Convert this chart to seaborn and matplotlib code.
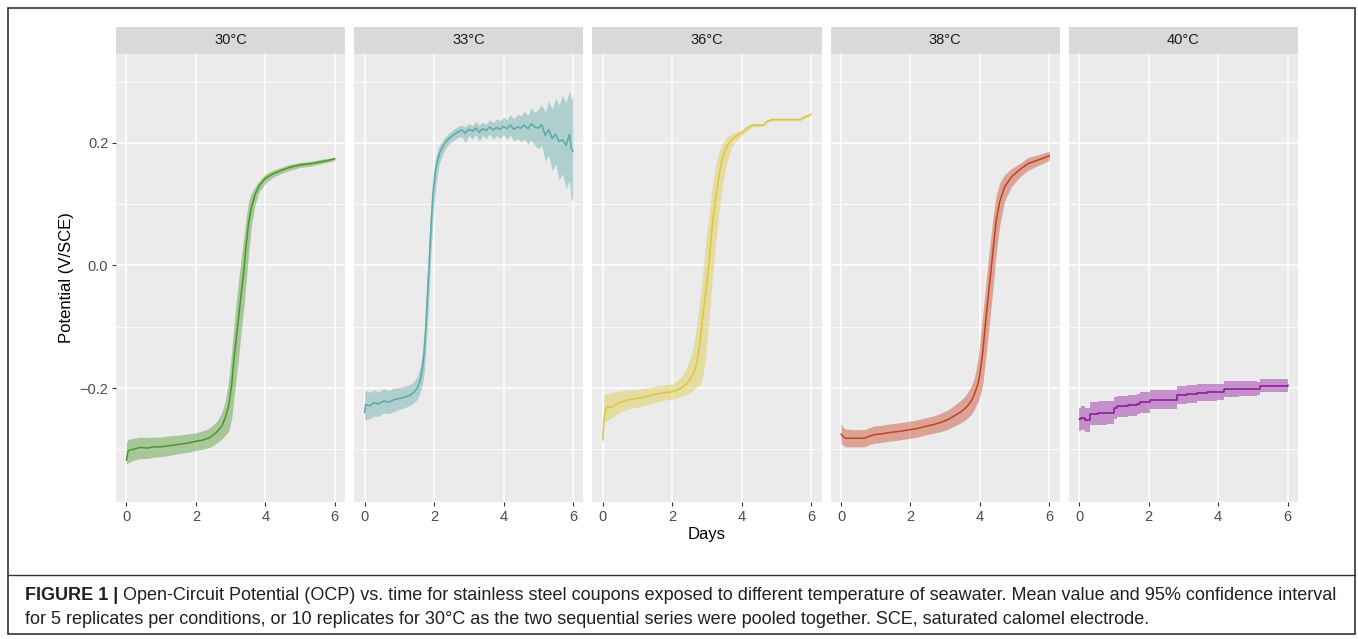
import numpy as np
import pandas as pd
import seaborn as sns
import matplotlib.pyplot as plt
from matplotlib import font_manager
from matplotlib.patches import Rectangle
from matplotlib.lines import Line2D
from matplotlib.ticker import FuncFormatter

# ---- data (days, mean, 95% CI) ----
temps = ["30°C", "33°C", "36°C", "38°C", "40°C"]

days_30 = [0.00, 0.05, 0.20, 0.40, 0.60, 0.80, 1.00, 1.25, 1.50, 1.75, 2.00, 2.20, 2.40, 2.60, 2.75,
           2.85, 2.95, 3.03, 3.10, 3.17, 3.24, 3.31, 3.38, 3.45, 3.52, 3.60, 3.70, 3.82, 4.00, 4.20,
           4.45, 4.70, 5.00, 5.30, 5.60, 5.85, 6.00]
mean_30 = [-0.318, -0.302, -0.300, -0.297, -0.298, -0.296, -0.296, -0.294, -0.292, -0.290, -0.287,
           -0.285, -0.281, -0.272, -0.262, -0.248, -0.228, -0.195, -0.150, -0.115, -0.080, -0.044,
           -0.010, 0.035, 0.070, 0.095, 0.115, 0.130, 0.142, 0.149, 0.155, 0.160, 0.164, 0.166,
           0.169, 0.172, 0.174]
lo_30 = [-0.325, -0.322, -0.318, -0.315, -0.315, -0.313, -0.312, -0.310, -0.307, -0.305, -0.302,
         -0.300, -0.297, -0.290, -0.283, -0.277, -0.270, -0.250, -0.215, -0.180, -0.145, -0.105,
         -0.070, -0.025, 0.020, 0.065, 0.098, 0.120, 0.134, 0.143, 0.150, 0.155, 0.160, 0.162,
         0.166, 0.169, 0.171]
hi_30 = [-0.290, -0.284, -0.282, -0.280, -0.281, -0.280, -0.280, -0.278, -0.277, -0.275, -0.273,
         -0.270, -0.265, -0.255, -0.240, -0.220, -0.185, -0.140, -0.095, -0.055, -0.020, 0.015,
         0.045, 0.080, 0.105, 0.118, 0.128, 0.138, 0.149, 0.155, 0.160, 0.165, 0.168, 0.170,
         0.173, 0.175, 0.177]

days_33 = [0.00, 0.03, 0.15, 0.27, 0.40, 0.55, 0.70, 0.85, 1.00, 1.15, 1.30, 1.42, 1.52, 1.60, 1.66,
           1.71, 1.76, 1.81, 1.86, 1.91, 1.97, 2.05, 2.15, 2.28, 2.42, 2.58, 2.70,
           2.8, 2.9, 3.0, 3.1, 3.2, 3.3, 3.4, 3.5, 3.6, 3.7, 3.8, 3.9, 4.0, 4.1, 4.2, 4.3, 4.4,
           4.5, 4.6, 4.7, 4.8, 4.9, 5.0, 5.1, 5.2, 5.3, 5.4, 5.5, 5.6, 5.7, 5.8, 5.9, 5.95, 6.0]
mean_33 = [-0.240, -0.227, -0.229, -0.224, -0.226, -0.221, -0.223, -0.219, -0.217, -0.215, -0.212,
           -0.207, -0.200, -0.188, -0.170, -0.145, -0.105, -0.051, 0.003, 0.062, 0.116, 0.159,
           0.182, 0.197, 0.207, 0.214, 0.218,
           0.221, 0.216, 0.222, 0.219, 0.224, 0.217, 0.223, 0.220, 0.226, 0.221, 0.225, 0.222,
           0.227, 0.223, 0.229, 0.222, 0.226, 0.224, 0.229, 0.223, 0.231, 0.226, 0.224, 0.230,
           0.212, 0.222, 0.207, 0.214, 0.202, 0.205, 0.196, 0.214, 0.192, 0.186]
lo_33 = [-0.252, -0.252, -0.250, -0.246, -0.246, -0.241, -0.242, -0.238, -0.235, -0.232, -0.229,
         -0.224, -0.218, -0.208, -0.195, -0.178, -0.145, -0.095, -0.040, 0.020, 0.075, 0.130,
         0.166, 0.186, 0.198, 0.205, 0.209,
         0.210, 0.200, 0.212, 0.206, 0.214, 0.203, 0.212, 0.207, 0.214, 0.206, 0.212, 0.207,
         0.213, 0.206, 0.213, 0.203, 0.207, 0.202, 0.206, 0.198, 0.204, 0.196, 0.190, 0.196,
         0.170, 0.180, 0.155, 0.165, 0.140, 0.150, 0.125, 0.140, 0.105, 0.110]
hi_33 = [-0.205, -0.204, -0.207, -0.203, -0.206, -0.201, -0.204, -0.200, -0.199, -0.197, -0.194,
         -0.189, -0.180, -0.165, -0.142, -0.110, -0.060, -0.005, 0.050, 0.105, 0.148, 0.178,
         0.196, 0.207, 0.216, 0.223, 0.227,
         0.229, 0.226, 0.232, 0.228, 0.235, 0.229, 0.234, 0.231, 0.238, 0.233, 0.239, 0.236,
         0.242, 0.238, 0.246, 0.239, 0.247, 0.244, 0.252, 0.245, 0.257, 0.250, 0.255, 0.262,
         0.250, 0.268, 0.255, 0.272, 0.262, 0.278, 0.265, 0.285, 0.270, 0.280]

days_36 = [0.00, 0.03, 0.06, 0.12, 0.26, 0.45, 0.74, 1.00, 1.25, 1.51, 1.75, 2.00, 2.15, 2.28, 2.40,
           2.52, 2.60, 2.66, 2.72, 2.79, 2.86, 2.95, 3.05, 3.14, 3.24, 3.34, 3.45, 3.58, 3.72, 3.91,
           4.00, 4.11, 4.30, 4.63, 4.73, 4.88, 5.69, 5.79, 5.90, 6.00]
mean_36 = [-0.285, -0.255, -0.240, -0.231, -0.231, -0.224, -0.219, -0.217, -0.214, -0.210, -0.208,
           -0.206, -0.203, -0.199, -0.194, -0.185, -0.177, -0.169, -0.155, -0.130, -0.093, -0.050,
           -0.002, 0.058, 0.106, 0.144, 0.177, 0.195, 0.206, 0.214, 0.217, 0.222, 0.229, 0.229,
           0.235, 0.238, 0.238, 0.242, 0.244, 0.247]
lo_36 = [-0.290, -0.262, -0.256, -0.253, -0.249, -0.241, -0.234, -0.231, -0.228, -0.223, -0.220,
         -0.218, -0.216, -0.214, -0.211, -0.207, -0.203, -0.200, -0.198, -0.196, -0.185, -0.155,
         -0.095, -0.030, 0.030, 0.085, 0.135, 0.170, 0.195, 0.208, 0.212, 0.218, 0.226, 0.227,
         0.233, 0.236, 0.236, 0.240, 0.242, 0.245]
hi_36 = [-0.280, -0.215, -0.210, -0.209, -0.208, -0.205, -0.203, -0.202, -0.200, -0.197, -0.195,
         -0.193, -0.188, -0.180, -0.168, -0.150, -0.132, -0.115, -0.090, -0.060, -0.020, 0.030,
         0.080, 0.125, 0.160, 0.185, 0.200, 0.210, 0.215, 0.219, 0.221, 0.226, 0.232, 0.231,
         0.237, 0.240, 0.240, 0.244, 0.246, 0.249]

days_38 = [0.00, 0.07, 0.14, 0.40, 0.67, 0.80, 0.96, 1.15, 1.35, 1.65, 1.99, 2.20, 2.40, 2.65, 2.88,
           3.10, 3.27, 3.45, 3.56, 3.66, 3.75, 3.83, 3.89, 3.95, 3.99, 4.04, 4.09, 4.18, 4.28, 4.38,
           4.47, 4.57, 4.71, 4.90, 5.14, 5.38, 5.63, 5.87, 6.00]
mean_38 = [-0.275, -0.280, -0.282, -0.282, -0.282, -0.279, -0.276, -0.275, -0.273, -0.271, -0.268,
           -0.266, -0.263, -0.260, -0.256, -0.251, -0.245, -0.239, -0.234, -0.228, -0.221, -0.212,
           -0.202, -0.192, -0.180, -0.160, -0.137, -0.083, -0.029, 0.025, 0.074, 0.104, 0.128,
           0.144, 0.156, 0.166, 0.171, 0.176, 0.179]
lo_38 = [-0.291, -0.294, -0.296, -0.296, -0.296, -0.293, -0.290, -0.289, -0.287, -0.285, -0.282,
         -0.280, -0.277, -0.274, -0.271, -0.267, -0.262, -0.257, -0.253, -0.248, -0.243, -0.236,
         -0.228, -0.222, -0.215, -0.205, -0.190, -0.145, -0.090, -0.035, 0.020, 0.065, 0.105,
         0.128, 0.144, 0.155, 0.162, 0.168, 0.172]
hi_38 = [-0.258, -0.265, -0.267, -0.268, -0.268, -0.265, -0.262, -0.261, -0.259, -0.257, -0.254,
         -0.252, -0.249, -0.246, -0.241, -0.235, -0.228, -0.220, -0.214, -0.206, -0.197, -0.185,
         -0.170, -0.150, -0.130, -0.100, -0.075, -0.025, 0.030, 0.080, 0.115, 0.135, 0.148,
         0.158, 0.166, 0.176, 0.180, 0.184, 0.186]

days_40 = [0.00, 0.05, 0.17, 0.32, 0.55, 0.80, 0.99, 1.09, 1.40, 1.66, 1.76, 2.05, 2.40, 2.67, 2.82,
           3.11, 3.40, 3.68, 3.97, 4.16, 4.60, 5.13, 5.22, 6.00]
mean_40 = [-0.251, -0.249, -0.252, -0.242, -0.241, -0.240, -0.233, -0.230, -0.228, -0.226, -0.223,
           -0.219, -0.219, -0.219, -0.211, -0.210, -0.208, -0.207, -0.206, -0.201, -0.201, -0.201,
           -0.196, -0.195]
lo_40 = [-0.270, -0.268, -0.271, -0.261, -0.260, -0.258, -0.251, -0.247, -0.245, -0.243, -0.240,
         -0.235, -0.235, -0.234, -0.226, -0.225, -0.222, -0.221, -0.219, -0.214, -0.213, -0.212,
         -0.207, -0.206]
hi_40 = [-0.232, -0.230, -0.233, -0.223, -0.222, -0.222, -0.215, -0.213, -0.211, -0.209, -0.206,
         -0.203, -0.203, -0.204, -0.196, -0.195, -0.194, -0.193, -0.193, -0.188, -0.189, -0.190,
         -0.185, -0.184]

line_colors = ["#4B9628", "#5AAAA5", "#DCC83C", "#C3411E", "#8C149B"]

series = {
    "30°C": (days_30, mean_30, lo_30, hi_30),
    "33°C": (days_33, mean_33, lo_33, hi_33),
    "36°C": (days_36, mean_36, lo_36, hi_36),
    "38°C": (days_38, mean_38, lo_38, hi_38),
    "40°C": (days_40, mean_40, lo_40, hi_40),
}

frames = []
for t, (d, m, lo, hi) in series.items():
    frames.append(pd.DataFrame({"temp": t, "day": d, "mean": m, "lo": lo, "hi": hi}))
df = pd.concat(frames, ignore_index=True)

# ---- style (ggplot grey look) ----
sns.set_theme(style="darkgrid", rc={
    "axes.facecolor": "#EBEBEB",
    "grid.color": "white",
    "axes.edgecolor": "none",
})
names = {f.name for f in font_manager.fontManager.ttflist}
plt.rcParams["font.family"] = ["Liberation Sans", "DejaVu Sans"]

W, H = 1358, 639
g = sns.FacetGrid(df, col="temp", col_order=temps, sharex=True, sharey=True, despine=False)
fig = g.figure
fig.set_size_inches(W / 100, H / 100)
fig.set_dpi(100)
fig.subplots_adjust(left=116 / W, right=1298 / W, top=1 - 54 / H, bottom=1 - 502 / H,
                    wspace=9 / 229)
g.set_titles("")

fmt = FuncFormatter(lambda v, p: ("%.1f" % v).replace("-", "\u2212"))

for i, (t, ax) in enumerate(g.axes_dict.items()):
    sub = df[df["temp"] == t]
    col = line_colors[i]
    step = "post" if t == "40°C" else None
    ax.fill_between(sub["day"], sub["lo"], sub["hi"], color=col, alpha=0.42, lw=0, step=step)
    sns.lineplot(data=sub, x="day", y="mean", ax=ax, color=col, lw=1.1,
                 drawstyle="steps-post" if step else "default", errorbar=None)
    ax.set_xlim(-0.3, 6.3)
    ax.set_ylim(-0.386, 0.345)
    ax.set_xticks([0, 2, 4, 6])
    ax.set_yticks([-0.2, 0.0, 0.2])
    ax.set_yticks([-0.3, -0.1, 0.1, 0.3], minor=True)
    ax.yaxis.set_major_formatter(fmt)
    ax.grid(which="major", color="white", lw=1.1)
    ax.grid(which="minor", axis="y", color="white", lw=0.55)
    ax.grid(which="minor", axis="x", visible=False)
    ax.set_xlabel("")
    ax.set_ylabel("")
    for s in ax.spines.values():
        s.set_visible(False)
    ax.tick_params(which="major", length=3, width=0.8, color="#333333",
                   labelsize=10.5, labelcolor="#4D4D4D", pad=2.5, bottom=True,
                   left=(i == 0), labelleft=(i == 0), labelbottom=True)
    ax.tick_params(which="minor", length=0)
    # strip on top
    ax.add_patch(Rectangle((0, 1), 1, 27 / 448, transform=ax.transAxes, clip_on=False,
                           fc="#D9D9D9", ec="none"))
    ax.text(0.5, 1 + 13.5 / 448, t, transform=ax.transAxes, ha="center", va="center",
            fontsize=10.5, color="#1A1A1A")

fig.text(67 / W, 1 - 278 / H, "Potential (V/SCE)", rotation=90, ha="center", va="center",
         fontsize=12, color="black")
fig.text(707 / W, 1 - 535 / H, "Days", ha="center", va="center", fontsize=12, color="black")

# frame and caption
fig.add_artist(Rectangle((8 / W, 1 - 634 / H), (1355 - 8) / W, (634 - 8) / H,
                         transform=fig.transFigure, fill=False, ec="#333333", lw=1.2))
fig.add_artist(Line2D([8 / W, 1355 / W], [1 - 575 / H, 1 - 575 / H], transform=fig.transFigure,
                      color="#333333", lw=1.0))

cap_font = ["Liberation Sans Narrow", "Liberation Sans", "DejaVu Sans"] \
    if "Liberation Sans Narrow" in names else ["Liberation Sans", "DejaVu Sans"]
line1 = ("Open-Circuit Potential (OCP) vs. time for stainless steel coupons exposed to different "
         "temperature of seawater. Mean value and 95% confidence interval")
line2 = ("for 5 replicates per conditions, or 10 replicates for 30°C as the two sequential series "
         "were pooled together. SCE, saturated calomel electrode.")
cap_size = 12.5
t_bold = fig.text(25 / W, 1 - 596 / H, "FIGURE 1 |", fontweight="bold", family=cap_font,
                  fontsize=cap_size, va="center", color="#231F20")
fig.canvas.draw()
r = fig.canvas.get_renderer()
bx = t_bold.get_window_extent(r).x1
t1 = fig.text(bx / W + 5 / W, 1 - 596 / H, line1, family=cap_font, fontsize=cap_size,
              va="center", color="#231F20")
t2 = fig.text(25 / W, 1 - 620 / H, line2, family=cap_font, fontsize=cap_size,
              va="center", color="#231F20")
# fit caption width to the page text block
fig.canvas.draw()
x_end = t1.get_window_extent(r).x1
scale = (1338 - 25) / (x_end - 25)
new = cap_size * scale
for t in (t_bold, t1, t2):
    t.set_fontsize(new)
fig.canvas.draw()
bx = t_bold.get_window_extent(r).x1
t1.set_x((bx + 5) / W)

fig.savefig("out.png", dpi=100, facecolor="white")
